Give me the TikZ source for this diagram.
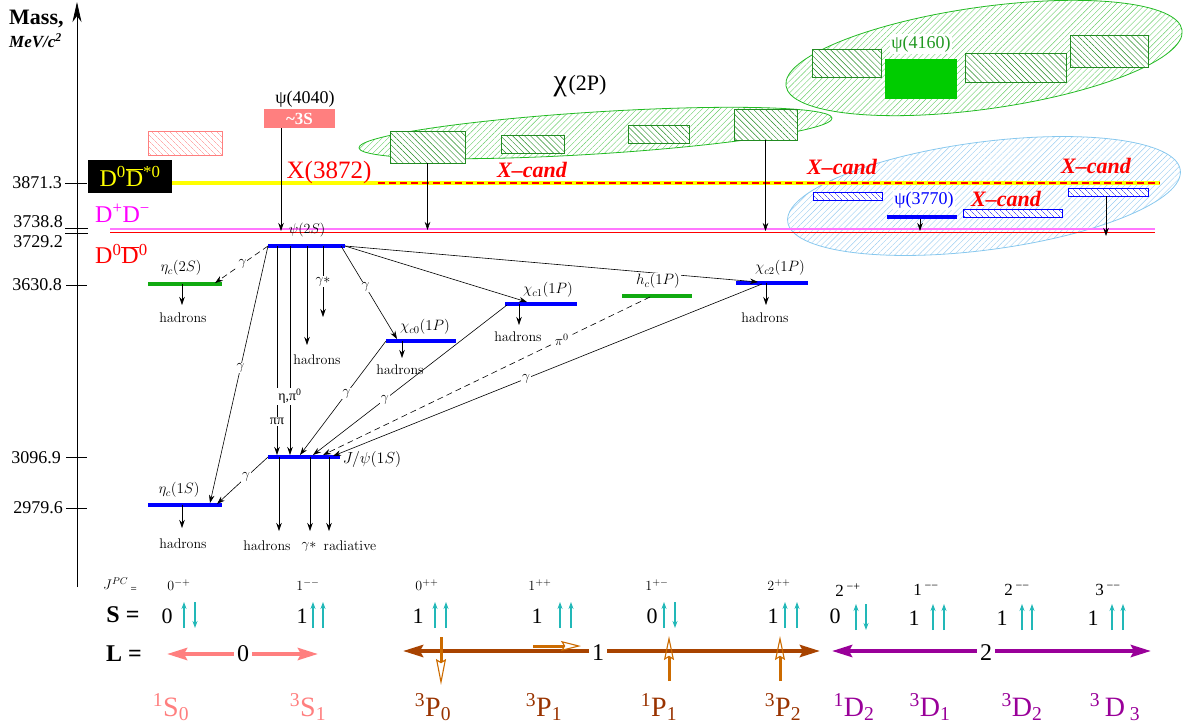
\RequirePackage{fix-cm}
\documentclass[tikz,border=0pt]{standalone}
\usepackage[no-math]{fontspec}
\setmainfont{Liberation Serif}
\usetikzlibrary{arrows.meta,patterns.meta,shapes.geometric,calc}
\definecolor{salmon}{HTML}{FF7F7F}
\definecolor{brn}{HTML}{A84300}
\definecolor{brnt}{HTML}{993300}
\definecolor{brnl}{HTML}{CC6B00}
\definecolor{purp}{HTML}{990099}
\definecolor{spin}{HTML}{22B8B8}
\definecolor{grn}{HTML}{00CC00}
\definecolor{egrn}{HTML}{22BB22}
\definecolor{lgrn}{HTML}{66CC66}
\definecolor{dgrn}{HTML}{228B22}
\definecolor{tgrn}{HTML}{229922}
\definecolor{lvg}{HTML}{11AA11}
\definecolor{eblu}{HTML}{88C8EE}
\definecolor{lblu}{HTML}{99CCF0}
\definecolor{mag}{HTML}{FF00FF}
\definecolor{pinkl}{HTML}{FF77FF}
\definecolor{yel}{HTML}{FFFF00}
\newcommand\myfs[1]{\fontsize{#1}{#1}\selectfont}
\begin{document}
\begin{tikzpicture}[x=1pt,y=-1pt,
  lvl/.style={rectangle, fill=#1, minimum height=4pt, inner sep=0pt, outer sep=0pt},
  tr/.style={-{Stealth[length=8pt,width=5.5pt]}, line width=0.6pt},
  dsh/.style={tr, dash pattern=on 6pt off 4pt},
  wl/.style={fill=white, inner sep=1pt, font=\myfs{14}},
  sl/.style={inner sep=0pt, font=\myfs{14}},
  hbx/.style={rectangle, draw=dgrn, line width=0.9pt, inner sep=0pt, preaction={fill=white}, pattern={Lines[angle=-45,distance=4.2pt,line width=0.45pt]}, pattern color=dgrn},
  hbb/.style={rectangle, draw=blue, line width=0.9pt, inner sep=0pt, preaction={fill=white}, pattern={Lines[angle=-45,distance=4pt,line width=0.45pt]}, pattern color=blue},
  ell/.style={ellipse, line width=0.8pt, inner sep=0pt, pattern={Lines[angle=45,distance=4.2pt,line width=0.4pt]}},
  axtick/.style={line width=0.8pt},
  axl/.style={anchor=east, font=\myfs{18}, inner sep=0pt},
  xc/.style={text=red, font=\myfs{22}\bfseries\itshape, inner sep=0pt},
  spinarr/.style={-{Stealth[length=7pt,width=5pt]}, line width=1.1pt, spin},
  bigarr/.style={-{Stealth[length=20pt,width=12pt,inset=3pt]}, line width=4pt},
  openarr/.style={-{Stealth[open,length=#1,width=10pt,inset=3pt,line width=1.1pt]}, line width=3pt, brnl},
  jl/.style={inner sep=0pt, font=\myfs{14}},
  jr/.style={inner sep=0pt, font=\myfs{17}},
  srow/.style={inner sep=0pt, font=\myfs{22}},
  lrow/.style={inner sep=3pt, font=\myfs{24}},
  spec/.style={inner sep=0pt, font=\myfs{28}}
]
\useasboundingbox (0,0) rectangle (1184,728);

% ---------- axis ----------
\coordinate (ax0) at (77,587);
\coordinate (ax1) at (77,2);
\draw[line width=0.8pt, -{Stealth[length=20pt,width=9pt,inset=6pt]}] (ax0) -- (ax1);
\node[anchor=west, font=\myfs{22}\bfseries, inner sep=0pt] (mass) at (9,19) {Mass,};
\node[anchor=west, font=\myfs{17}\bfseries\itshape, inner sep=0pt] (mev) at (9,41) {MeV/c\textsuperscript{2}};
\draw[axtick] (65,183) -- (87,183);
\draw[axtick] (65,228) -- (88,228);
\draw[axtick] (65,233) -- (88,233);
\draw[axtick] (66,285) -- (87,285);
\draw[axtick] (66,457) -- (87,457);
\draw[axtick] (66,508) -- (87,508);
\node[axl] (t1) at (62,183) {3871.3};
\node[axl] (t2) at (63,222) {3738.8};
\node[axl] (t3) at (63,242) {3729.2};
\node[axl] (t4) at (62,285) {3630.8};
\node[axl] (t5) at (61,458) {3096.9};
\node[axl] (t6) at (63,508) {2979.6};

% ---------- ellipses ----------
\node[ell, draw=egrn, pattern color=lgrn, minimum width=474pt, minimum height=42pt, rotate=3.6] (chi2P) at (595.5,133) {};
\node[ell, draw=egrn, pattern color=lgrn, minimum width=400pt, minimum height=102pt, rotate=8] (e4160) at (984,58) {};
\node[ell, draw=eblu, pattern color=lblu, minimum width=396pt, minimum height=108pt, rotate=7.5] (eX) at (984,196) {};

% ---------- boxes ----------
\node[rectangle, draw=salmon, line width=0.8pt, inner sep=0pt, minimum width=74pt, minimum height=24pt, pattern={Lines[angle=-45,distance=4pt,line width=0.45pt]}, pattern color=salmon] (pbox) at (185,143) {};
\node[hbx, minimum width=75pt, minimum height=32pt] (bA) at (427.5,147) {};
\node[hbx, minimum width=63pt, minimum height=18pt] (bB) at (532.5,144) {};
\node[hbx, minimum width=61pt, minimum height=18pt] (bC) at (658.5,134) {};
\node[hbx, minimum width=63pt, minimum height=31pt] (bD) at (765.5,124.5) {};
\node[hbx, minimum width=69pt, minimum height=28pt] (bE) at (846.5,63) {};
\node[rectangle, fill=grn, inner sep=0pt, minimum width=72pt, minimum height=40pt] (b4160) at (921,79) {};
\node[hbx, minimum width=101pt, minimum height=29pt] (bF) at (1015.5,67.5) {};
\node[hbx, minimum width=78pt, minimum height=32pt] (bG) at (1109,51) {};
\node[hbb, minimum width=69pt, minimum height=8pt] (bH) at (847.5,196) {};
\node[hbb, minimum width=99pt, minimum height=8pt] (bI) at (1012.5,213) {};
\node[hbb, minimum width=80pt, minimum height=8pt] (bJ) at (1108,192) {};
\node[fill=white, inner sep=1.5pt, text=tgrn, font=\myfs{18}] (l4160) at (921,44) {ψ(4160)};
\node[fill=white, inner sep=1.5pt, text=blue, font=\myfs{18}] (l3770) at (924,200) {ψ(3770)};
\node[lvl=blue, minimum width=70pt] (p3770) at (922,217) {};

% ---------- thresholds ----------
\coordinate (y1) at (172,183); \coordinate (y2) at (1160,183); \coordinate (r1) at (378,183);
\draw[yel, line width=4pt] (y1) -- (y2);
\draw[red, line width=2.2pt, dash pattern=on 7pt off 4pt] (r1) -- (y2);
\coordinate (m1) at (110,228.5); \coordinate (m2) at (1155,228.5);
\draw[pinkl, line width=2pt] (m1) -- (m2);
\coordinate (n1) at (110,232.5); \coordinate (n2) at (1155,232.5);
\draw[red, line width=1.2pt] (n1) -- (n2);

\node[fill=black, text=yel, font=\myfs{24}, inner sep=0pt, minimum width=84pt, minimum height=33pt] (dstar) at (130,176.5) {D\textsuperscript{0}$\overline{\hbox{D}}$\textsuperscript{*0}};
\node[anchor=west, text=mag, font=\myfs{24}, inner sep=0pt] (dpm) at (95,213) {D\textsuperscript{+}D\textsuperscript{−}};
\node[anchor=west, text=red, font=\myfs{24}, inner sep=0pt] (d00) at (95,254) {D\textsuperscript{0}$\overline{\hbox{D}}$\textsuperscript{0}};
\node[text=red, font=\myfs{25}, inner sep=0pt] (x3872) at (329,172) {X(3872)};

\node[font=\myfs{18}, inner sep=0pt] (l4040) at (305,99) {ψ(4040)};
\node[rectangle, fill=salmon, text=white, font=\myfs{17}\bfseries, inner sep=0pt, minimum width=71pt, minimum height=19pt] (b4040) at (299.5,118.5) {\textasciitilde 3S};
\node[inner sep=0pt] (lchi2P) at (580,86) {{\myfs{30}χ}\,{\myfs{22}(2P)}};

\node[xc] (xc1) at (532,170) {X–cand};
\node[xc] (xc2) at (842,167) {X–cand};
\node[xc] (xc3) at (1096,166) {X–cand};
\node[xc] (xc4) at (1006,199) {X–cand};

% arrows from upper states
\coordinate (a4040) at (281,231);
\draw[tr] ($(b4040.south)+(-18.5,0)$) -- (a4040);
\coordinate (aA) at (427.5,230);
\draw[tr] (bA.south) -- (aA);
\coordinate (aD) at (765.5,231);
\draw[tr] (bD.south) -- (aD);
\coordinate (a3770) at (920,231);
\draw[tr] ($(p3770.south)+(-2,0)$) -- (a3770);
\coordinate (aJ) at (1106,236);
\draw[tr] ($(bJ.south)+(-2,0)$) -- (aJ);

% ---------- charmonium levels ----------
\node[lvl=blue, minimum width=77pt] (psi2S) at (306.5,246) {};
\node[lvl=lvg, minimum width=74pt] (etac2S) at (185,284) {};
\node[lvl=blue, minimum width=70pt] (chic0) at (421,341) {};
\node[lvl=blue, minimum width=72pt] (chic1) at (541,304) {};
\node[lvl=lvg, minimum width=70pt] (hc) at (657,296) {};
\node[lvl=blue, minimum width=72pt] (chic2) at (772,283) {};
\node[lvl=blue, minimum width=72pt] (jpsi) at (304,457) {};
\node[lvl=blue, minimum width=74pt] (etac1S) at (185,505) {};

% transitions
\draw[dsh] (psi2S.west) -- node[wl, pos=0.48] (g1) {$\gamma$} ($(etac2S.east)+(-7,-1)$);
\draw[tr] (psi2S.west) -- node[wl, pos=0.475] (g2) {$\gamma$} ($(etac1S.east)+(-12,-2)$);
\draw[tr] ($(psi2S.west)+(9,0)$) -- node[wl, pos=0.84] (pipi) {ππ} ($(jpsi.west)+(9,-2)$);
\draw[tr] ($(psi2S.west)+(22,0)$) -- node[wl, pos=0.72] (etapi) {η,π\textsuperscript{0}} ($(jpsi.west)+(22,-2)$);
\coordinate (h1) at (307,345);
\draw[tr] ($(psi2S.west)+(39,0)$) -- (h1);
\coordinate (h2) at (323,317);
\draw[tr] ($(psi2S.west)+(55,0)$) -- node[wl, pos=0.5] (gs) {$\gamma{*}$} (h2);
\draw[tr] ($(psi2S.east)+(-4,0)$) -- node[wl, pos=0.44] (g3) {$\gamma$} ($(chic0.west)+(11,-2)$);
\draw[tr] (psi2S.east) -- ($(chic1.west)+(22,-2)$);
\draw[tr] (psi2S.east) -- ($(chic2.west)+(22,-1)$);
\draw[tr] (chic0.west) -- node[wl, pos=0.46] (g4) {$\gamma$} ($(jpsi.west)+(32,-2)$);
\draw[tr] ($(chic1.west)+(2,1)$) -- node[wl, pos=0.63] (g5) {$\gamma$} ($(jpsi.west)+(45,-2)$);
\draw[dsh] ($(hc.west)+(28,1)$) -- node[wl, pos=0.27] (pi0) {$\pi^0$} ($(jpsi.west)+(55,-2)$);
\draw[tr] ($(chic2.west)+(26,1)$) -- node[wl, pos=0.55] (g6) {$\gamma$} ($(jpsi.west)+(65,-1)$);
\draw[tr] (jpsi.west) -- node[wl, pos=0.43] (g7) {$\gamma$} ($(etac1S.east)+(-5,-1)$);

% decays to hadrons
\coordinate (d1) at (182,305);
\draw[tr] ($(etac2S.west)+(34,0)$) -- (d1);
\coordinate (d2) at (402,358);
\draw[tr] ($(chic0.west)+(16,0)$) -- (d2);
\coordinate (d3) at (519,325);
\draw[tr] ($(chic1.west)+(14,0)$) -- (d3);
\coordinate (d4) at (766,305);
\draw[tr] ($(chic2.west)+(30,0)$) -- (d4);
\coordinate (d5) at (182,528);
\draw[tr] ($(etac1S.west)+(34,0)$) -- (d5);
\coordinate (d6) at (279,531);
\draw[tr] ($(jpsi.west)+(11,0)$) -- (d6);
\coordinate (d7) at (310,531);
\draw[tr] ($(jpsi.west)+(42,0)$) -- (d7);
\coordinate (d8) at (329,531);
\draw[tr] ($(jpsi.west)+(61,0)$) -- (d8);

% level labels
\node[sl, font=\myfs{14}] (lpsi2S) at (307,230) {$\psi(2S)$};
\node[sl, font=\myfs{15}] (letac2S) at (181,268) {$\eta_c(2S)$};
\node[sl, font=\myfs{15}] (lchic0) at (425,327) {$\chi_{c0}(1P)$};
\node[sl, font=\myfs{15}] (lchic1) at (548,290) {$\chi_{c1}(1P)$};
\node[wl, font=\myfs{15}] (lhc) at (658,281) {$h_c(1P)$};
\node[sl, font=\myfs{15}] (lchic2) at (780,268) {$\chi_{c2}(1P)$};
\node[sl, font=\myfs{16}] (ljpsi) at (372,459) {$J/\psi(1S)$};
\node[sl, font=\myfs{15}] (letac1S) at (179,490) {$\eta_c(1S)$};

\node[sl] (hd1) at (183,318) {$\mathrm{hadrons}$};
\node[sl] (hd2) at (317,360) {$\mathrm{hadrons}$};
\node[sl] (hd3) at (400,370) {$\mathrm{hadrons}$};
\node[sl] (hd4) at (518,337) {$\mathrm{hadrons}$};
\node[sl] (hd5) at (765,318) {$\mathrm{hadrons}$};
\node[sl] (hd6) at (183,544) {$\mathrm{hadrons}$};
\node[sl] (hd7) at (267,546) {$\mathrm{hadrons}$};
\node[sl] (gst) at (309,547) {$\gamma{*}$};
\node[sl] (rad) at (350,546) {$\mathrm{radiative}$};

% ---------- quantum numbers ----------
\node[jl] (jpc) at (120,585) {$J^{PC}$\,\raisebox{-3pt}{\myfs{11}=}};
\node[jl] (j1) at (179,585) {$0^{-+}$};
\node[jl] (j2) at (308,585) {$1^{--}$};
\node[jl] (j3) at (427,585) {$0^{++}$};
\node[jl] (j4) at (540,585) {$1^{++}$};
\node[jl] (j5) at (657,585) {$1^{+-}$};
\node[jl] (j6) at (779,585) {$2^{++}$};
\node[jr] (j7) at (848,590) {2\,\textsuperscript{−+}};
\node[jr] (j8) at (926,590) {1\,\textsuperscript{−−}};
\node[jr] (j9) at (1017,590) {2\,\textsuperscript{−−}};
\node[jr] (j10) at (1108,590) {3\,\textsuperscript{−−}};

\node[font=\myfs{24}\bfseries, inner sep=0pt] (slab) at (123,615) {S =};
\node[font=\myfs{24}\bfseries, inner sep=0pt] (llab) at (124,654) {L =};

\node[srow] (s1) at (167,616) {0};
\node[srow] (s2) at (302,616) {1};
\node[srow] (s3) at (418,616) {1};
\node[srow] (s4) at (537,616) {1};
\node[srow] (s5) at (652,616) {0};
\node[srow] (s6) at (773,616) {1};
\node[srow] (s7) at (835,616) {0};
\node[srow] (s8) at (914,618) {1};
\node[srow] (s9) at (1002,618) {1};
\node[srow] (s10) at (1093,618) {1};
% spin arrows
\draw[spinarr] (184,628) -- (184,602);
\draw[spinarr] (195,602) -- (195,628);
\draw[spinarr] (313,628) -- (313,602);
\draw[spinarr] (323,628) -- (323,602);
\draw[spinarr] (435,628) -- (435,602);
\draw[spinarr] (446,628) -- (446,602);
\draw[spinarr] (560,628) -- (560,602);
\draw[spinarr] (571,628) -- (571,602);
\draw[spinarr] (664,628) -- (664,602);
\draw[spinarr] (675,602) -- (675,628);
\draw[spinarr] (785,628) -- (785,602);
\draw[spinarr] (797,628) -- (797,602);
\draw[spinarr] (856,630) -- (856,604);
\draw[spinarr] (866,604) -- (866,630);
\draw[spinarr] (933,630) -- (933,604);
\draw[spinarr] (944,630) -- (944,604);
\draw[spinarr] (1022,630) -- (1022,604);
\draw[spinarr] (1032,630) -- (1032,604);
\draw[spinarr] (1112,630) -- (1112,604);
\draw[spinarr] (1123,630) -- (1123,604);

% L arrows
\node[lrow] (l0) at (243,654) {0};
\coordinate (pl) at (167,654); \coordinate (pr) at (318,654);
\draw[bigarr, salmon] (l0.west) -- (pl);
\draw[bigarr, salmon] (l0.east) -- (pr);
\node[lrow] (l1) at (598,653) {1};
\coordinate (bl) at (403,651); \coordinate (br) at (820,651);
\draw[bigarr, brn] ($(l1.west)+(0,-2)$) -- (bl);
\draw[bigarr, brn] ($(l1.east)+(0,-2)$) -- (br);
\node[lrow] (l2) at (986,653) {2};
\coordinate (ql) at (832,651); \coordinate (qr) at (1151,651);
\draw[bigarr, purp] ($(l2.west)+(0,-2)$) -- (ql);
\draw[bigarr, purp] ($(l2.east)+(0,-2)$) -- (qr);
% orbital/spin coupling arrows
\draw[openarr=26pt] (441,637) -- (441,685);
\draw[openarr=20pt] (533,646) -- (581,646);
\draw[openarr=24pt] (669,681) -- (669,636);
\draw[openarr=24pt] (780,681) -- (780,636);

% spectroscopic labels
\node[spec, text=salmon] (n1S0) at (171,707) {\textsuperscript{1}S\textsubscript{0}};
\node[spec, text=salmon] (n3S1) at (308,707) {\textsuperscript{3}S\textsubscript{1}};
\node[spec, text=brnt] (n3P0) at (433,707) {\textsuperscript{3}P\textsubscript{0}};
\node[spec, text=brnt] (n3P1) at (544,707) {\textsuperscript{3}P\textsubscript{1}};
\node[spec, text=brnt] (n1P1) at (659,707) {\textsuperscript{1}P\textsubscript{1}};
\node[spec, text=brnt] (n3P2) at (783,707) {\textsuperscript{3}P\textsubscript{2}};
\node[spec, text=purp] (n1D2) at (854,707) {\textsuperscript{1}D\textsubscript{2}};
\node[spec, text=purp] (n3D1) at (930,707) {\textsuperscript{3}D\textsubscript{1}};
\node[spec, text=purp] (n3D2) at (1022,707) {\textsuperscript{3}D\textsubscript{2}};
\node[spec, text=purp] (n3D3) at (1115,707) {\textsuperscript{3}\,D\,\textsubscript{3}};
\end{tikzpicture}
\end{document}
